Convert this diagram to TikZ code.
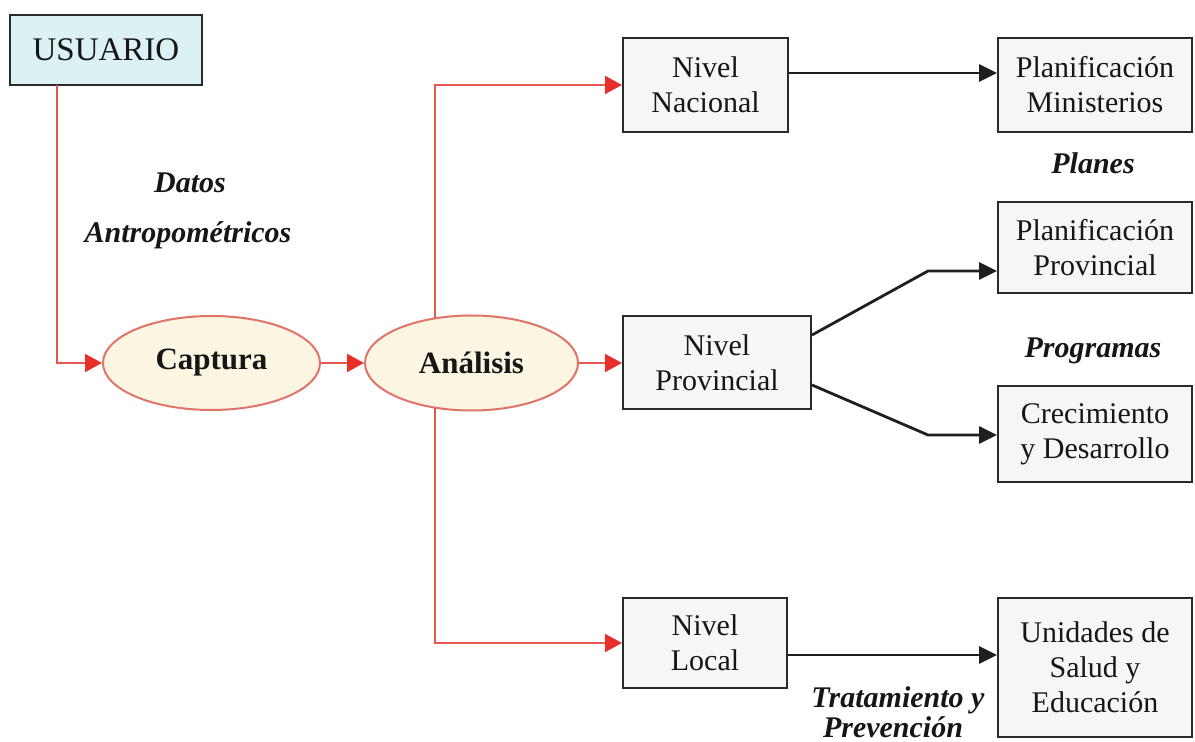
\documentclass[tikz,border=0pt]{standalone}
\usepackage{fontspec}
\setmainfont{Liberation Serif}
\usetikzlibrary{arrows.meta,shapes.geometric}
\definecolor{boxfill}{HTML}{F4F6F7}
\definecolor{userfill}{HTML}{DCF1F4}
\definecolor{boxline}{HTML}{2A2A2A}
\definecolor{ovfill}{HTML}{FBF5E2}
\definecolor{ovline}{HTML}{E07468}
\definecolor{redline}{HTML}{E5584F}
\definecolor{redhead}{HTML}{E8302A}
\definecolor{txt}{HTML}{161616}
\tikzset{
  box/.style={draw=boxline, line width=1pt, fill=boxfill, align=center, inner sep=0pt, text=txt},
  oval/.style={ellipse, draw=ovline, line width=1pt, fill=ovfill, inner sep=0pt, text=txt,
    font=\fontsize{15.5pt}{18pt}\selectfont\bfseries},
  lbl/.style={font=\fontsize{15pt}{17.5pt}\selectfont\bfseries\itshape, text=txt, inner sep=0pt},
  redarr/.style={draw=redline, line width=0.95pt, -{Triangle[length=8.5pt,width=9pt,color=redhead]}},
  blkarr/.style={draw=black!88, line width=1.4pt, -{Triangle[length=9pt,width=8.5pt]}}
}
\begin{document}
\begin{tikzpicture}[x=0.5pt,y=-0.5pt, font=\fontsize{15pt}{17.5pt}\selectfont]
\useasboundingbox (0,0) rectangle (1195,742);
\fill[white] (0,0) rectangle (1195,742);

% nodes
\node[box, fill=userfill, minimum width=96pt, minimum height=35pt, font=\fontsize{16.5pt}{19pt}\selectfont] (usuario) at (106,50) {USUARIO};
\node[oval, minimum width=108.5pt, minimum height=47pt] (captura) at (211.5,363) {Captura};
\node[oval, minimum width=106.5pt, minimum height=47.5pt] (analisis) at (471.5,363) {Análisis};

\node[box, minimum width=82.5pt, minimum height=47pt] (nacional) at (705.5,85) {Nivel\\Nacional};
\node[box, minimum width=94pt, minimum height=46.5pt] (provincial) at (717,363) {Nivel\\Provincial};
\node[box, minimum width=82pt, minimum height=45pt] (local) at (705,643) {Nivel\\Local};

\node[box, minimum width=97pt, minimum height=47pt] (minist) at (1095,85) {Planificación\\Ministerios};
\node[box, minimum width=97pt, minimum height=45.5pt] (planprov) at (1095,247.5) {Planificación\\Provincial};
\node[box, minimum width=97pt, minimum height=48pt] (crec) at (1095,434) {Crecimiento\\y Desarrollo};
\node[box, minimum width=97pt, minimum height=69.5pt] (unid) at (1095,667.5) {Unidades de\\Salud y\\Educación};

% labels
\node[lbl] (datos) at (190,183) {Datos};
\node[lbl] (antro) at (188,235) {Antropométricos};
\node[lbl] (planes) at (1093,163) {Planes};
\node[lbl] (progr) at (1093,351) {Programas};
\node[lbl] (trat) at (898,700) {Tratamiento y};
\node[lbl] (prev) at (893,727) {Prevención};

% helper coordinates
\coordinate (u1) at (57,85);
\coordinate (atop) at (435,318);
\coordinate (abot) at (435,408);
\coordinate (n1) at ([yshift=6pt]nacional.east);
\coordinate (p1) at ([yshift=14pt]provincial.east);
\coordinate (p2) at ([yshift=-11pt]provincial.east);
\coordinate (e1) at (928,271);
\coordinate (e2) at (928,435);
\coordinate (l1) at ([yshift=-6pt]local.east);

% red connectors
\draw[redarr] (u1) |- (captura.west);
\draw[redarr] (captura.east) -- (analisis.west);
\draw[redarr] (atop) |- (nacional.west);
\draw[redarr] (analisis.east) -- (provincial.west);
\draw[redarr] (abot) |- (local.west);

% black connectors
\draw[blkarr] (n1) -- (n1 -| minist.west);
\draw[blkarr] (p1) -- (e1) -- (e1 -| planprov.west);
\draw[blkarr] (p2) -- (e2) -- (e2 -| crec.west);
\draw[blkarr] (l1) -- (l1 -| unid.west);
\end{tikzpicture}
\end{document}
